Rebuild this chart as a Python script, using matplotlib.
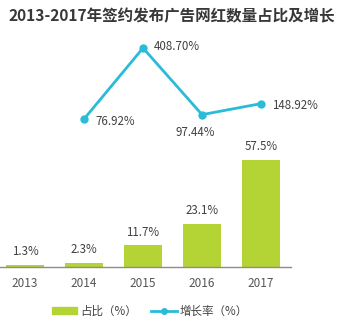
import numpy as np
import matplotlib.pyplot as plt
from matplotlib.lines import Line2D
from matplotlib.patches import Patch

plt.rcParams['font.family'] = ['Noto Sans CJK SC', 'DejaVu Sans']

years = ['2013', '2014', '2015', '2016', '2017']
share = [1.3, 2.3, 11.7, 23.1, 57.5]            # 占比 (%)
growth_years = ['2014', '2015', '2016', '2017']
growth = [76.92, 408.70, 97.44, 148.92]          # 增长率 (%)

bar_color = '#b4d334'
line_color = '#2bbbd8'
text_color = '#404040'

fig = plt.figure(figsize=(3.43, 3.22), dpi=100)
ax = fig.add_axes([0, 55 / 322, 291 / 343, 227 / 322])

x = np.arange(len(years))
ax.bar(x, share, width=0.63, color=bar_color)
for xi, v in zip(x, share):
    ax.annotate(f'{v}%', (xi, v), xytext=(0, 9.5), textcoords='offset points',
                ha='center', va='center', fontsize=8.3, color=text_color)

ax.set_xlim(-0.424, 4.508)
ax.set_ylim(0, 122)
ax.set_xticks(x)
ax.set_xticklabels(years, fontsize=8.5, color='#555555')
ax.tick_params(axis='x', length=0, pad=7)
ax.set_yticks([])
for s in ['top', 'left', 'right']:
    ax.spines[s].set_visible(False)
ax.spines['bottom'].set_color('#8c8c8c')
ax.spines['bottom'].set_linewidth(1)

ax2 = ax.twinx()
gx = [years.index(y) for y in growth_years]
ax2.plot(gx, growth, color=line_color, lw=2, marker='o', ms=5)
ax2.set_ylim(-614, 446)
ax2.set_yticks([])
for s in ax2.spines.values():
    s.set_visible(False)

offsets = [(8, -2), (8, 1), (-5, -13), (8, -1)]
aligns = ['left', 'left', 'center', 'left']
for xi, v, off, ha in zip(gx, growth, offsets, aligns):
    ax2.annotate(f'{v:.2f}%', (xi, v), xytext=off, textcoords='offset points',
                 ha=ha, va='center', fontsize=8.3, color=text_color)

fig.text(172 / 343, 1 - 16 / 322, '2013-2017年签约发布广告网红数量占比及增长',
         ha='center', va='center', fontsize=11.2, fontweight='bold', color='#383838')

handles = [Patch(color=bar_color),
           Line2D([], [], color=line_color, lw=2, marker='o', ms=4)]
fig.legend(handles, ['占比（%）', '增长率（%）'], loc='center',
           bbox_to_anchor=(150 / 343, 1 - 311 / 322), ncol=2, frameon=False,
           fontsize=8.3, handlelength=2.2, handleheight=0.6, columnspacing=1.2,
           handletextpad=0.3, labelcolor=text_color)

fig.savefig('out.png', dpi=100)
